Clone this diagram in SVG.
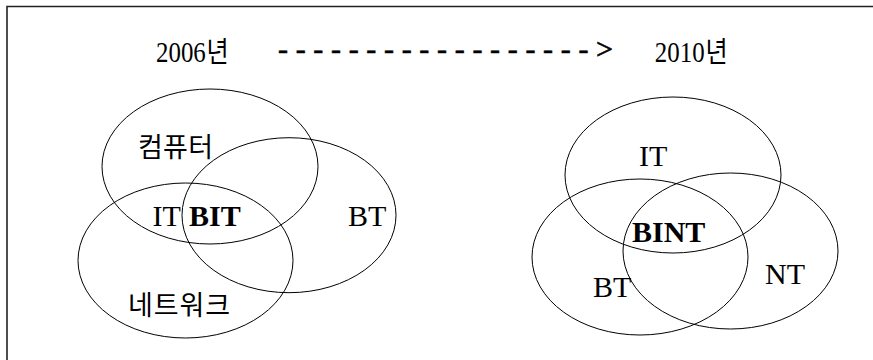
<svg xmlns="http://www.w3.org/2000/svg" width="873" height="360" viewBox="0 0 873 360">
  <style>
    .set { fill: none; stroke: #000; stroke-width: 1; }
    .lat { font-family: "Liberation Serif", "Times New Roman", serif; font-size: 30px; fill: #000; }
    .bold { font-weight: bold; }
    .kor { font-family: "Noto Sans CJK KR", "Noto Sans", sans-serif; font-size: 27px; fill: #000; }
    .frame { fill: none; stroke: #222; stroke-width: 1.6; }
    .dash { stroke: #000; stroke-width: 0.6; }
    .year { font-family: "Liberation Serif", "Noto Sans CJK KR", serif; font-size: 30px; fill: #000; }
    .year tspan { font-family: "Noto Sans CJK KR", sans-serif; font-size: 29px; }
  </style>

  <rect width="873" height="360" fill="#fff"/>

  <!-- open frame: top and left edges -->
  <path class="frame" d="M7 360 V6.5 H873"/>

  <!-- timeline heading; year labels are set in a narrowed face -->
  <g id="timeline">
    <text class="year" transform="scale(0.83 1)" x="188" y="62.5">2006<tspan dx="1">년</tspan></text>
    <text class="lat dash" x="278" y="59" font-size="35" textLength="335">------------------&gt;</text>
    <text class="year" transform="scale(0.83 1)" x="789" y="62.5">2010<tspan dx="1">년</tspan></text>
  </g>

  <!-- 2006: computer / network / BT -->
  <g id="computer">
    <ellipse class="set" cx="210" cy="166.5" rx="108" ry="77.5"/>
    <text class="kor" x="138" y="157" textLength="75">컴퓨터</text>
    <text class="lat" x="152.5" y="225.5">IT</text>
  </g>
  <g id="bt-2006">
    <ellipse class="set" cx="289" cy="215.2" rx="107" ry="77.5"/>
    <text class="lat" x="348" y="226">BT</text>
  </g>
  <g id="network">
    <ellipse class="set" cx="185.5" cy="260.5" rx="107.5" ry="77.5"/>
    <text class="kor" x="128" y="315" textLength="102">네트워크</text>
  </g>
  <g id="bit">
    <text class="lat bold" x="189" y="225.5">BIT</text>
  </g>

  <!-- 2010: IT / BT / NT -->
  <g id="it-2010">
    <ellipse class="set" cx="673" cy="175" rx="108" ry="78"/>
    <text class="lat" x="639" y="165.5">IT</text>
  </g>
  <g id="bt-2010">
    <ellipse class="set" cx="640" cy="257" rx="108" ry="78"/>
    <text class="lat" x="593" y="296.5">BT</text>
  </g>
  <g id="nt-2010">
    <ellipse class="set" cx="730.5" cy="251" rx="107.5" ry="78"/>
    <text class="lat" x="765" y="284">NT</text>
  </g>
  <g id="bint">
    <text class="lat bold" x="632" y="241.5">BINT</text>
  </g>
</svg>
